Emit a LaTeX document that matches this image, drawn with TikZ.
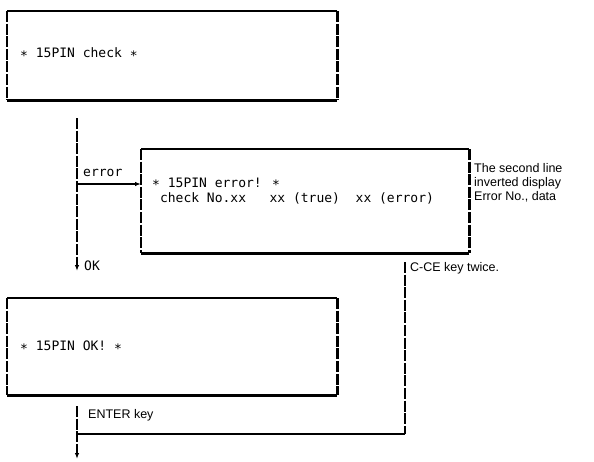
\documentclass[tikz,border=0pt]{standalone}
\usepackage{fontspec}
\setmainfont{Liberation Sans}
\newfontfamily\lcdfont{DejaVu Sans Mono}
\usetikzlibrary{positioning,arrows.meta}

% screen asterisk, sits lower than the text one
\newcommand\splat{\raisebox{-2.5pt}{*}}

\tikzset{
  panel/.style={minimum width=330pt, minimum height=89pt, inner sep=0pt, anchor=north west},
  rimh/.style={line width=2.2pt},
  rimv/.style={line width=2.2pt, dash pattern=on 11pt off 1.6pt},
  flow/.style={line width=1.8pt, dash pattern=on 11pt off 1.6pt},
  flowh/.style={line width=1.8pt},
  flowarrow/.style={flow, -{Latex[length=6pt,width=4.5pt]}},
  screen/.style={font=\lcdfont\fontsize{13}{15.5}\selectfont, inner sep=0pt, anchor=west, align=left},
  note/.style={font=\fontsize{12.5}{14}\selectfont, inner sep=0pt, anchor=west, align=left}
}

% frame of a display panel: solid top/bottom, broken sides
\newcommand\panelframe[1]{%
  \draw[rimh] (#1.north west) -- (#1.north east) (#1.south west) -- (#1.south east);
  \draw[rimv] (#1.north west) -- (#1.south west) (#1.north east) -- (#1.south east);
}

\begin{document}
\begin{tikzpicture}[x=1pt,y=-1pt]
    \useasboundingbox (0,0) rectangle (594,461);

    % display panels
    \node[panel] (check) at (7,11) {};
    \node[panel, minimum width=328pt, minimum height=104pt] (error) at (141,149) {};
    \node[panel, minimum height=97pt] (ok) at (7,298) {};
    \panelframe{check}
    \panelframe{error}
    \panelframe{ok}

    % what the panels show
    \node[screen] (checktxt) at (20,54) {\splat{} 15PIN check \splat};
    \node[screen] (errtxt) at (152,191) {\splat{} 15PIN error! \splat\\
      \ check No.xx \ \ xx (true) \ xx (error)};
    \node[screen] (oktxt) at (20,347) {\splat{} 15PIN OK! \splat};

    % notes beside the error panel
    \node[note] (inverted) at (474,183) {The second line\\inverted display\\Error No., data};

    % flow
    \coordinate (checkout) at (77,118);
    \coordinate (fork) at (77,184);
    \coordinate (okin) at (77,271);
    \coordinate (okout) at (77,406);
    \coordinate (join) at (77,434);
    \coordinate (last) at (77,459);
    \coordinate (cce) at (405,262);
    \coordinate (ccecorner) at (cce |- join);

    \draw[flowarrow] (checkout) -- (okin);
    \draw[flowh, -{Latex[length=6pt,width=4.5pt]}] (fork) -- (error.west |- fork);
    \draw[flowarrow] (okout) -- (last);
    \draw[flow] (cce) -- (ccecorner);
    \draw[flowh] (ccecorner) -- (join);

    \node[screen, anchor=south west] (errlbl) at (83,177) {error};
    \node[screen] (oklbl) at (84,266) {OK};
    \node[note] (enterlbl) at (88,415) {ENTER key};
    \node[note] (ccelbl) at (410,268) {C-CE key twice.};
\end{tikzpicture}
\end{document}
